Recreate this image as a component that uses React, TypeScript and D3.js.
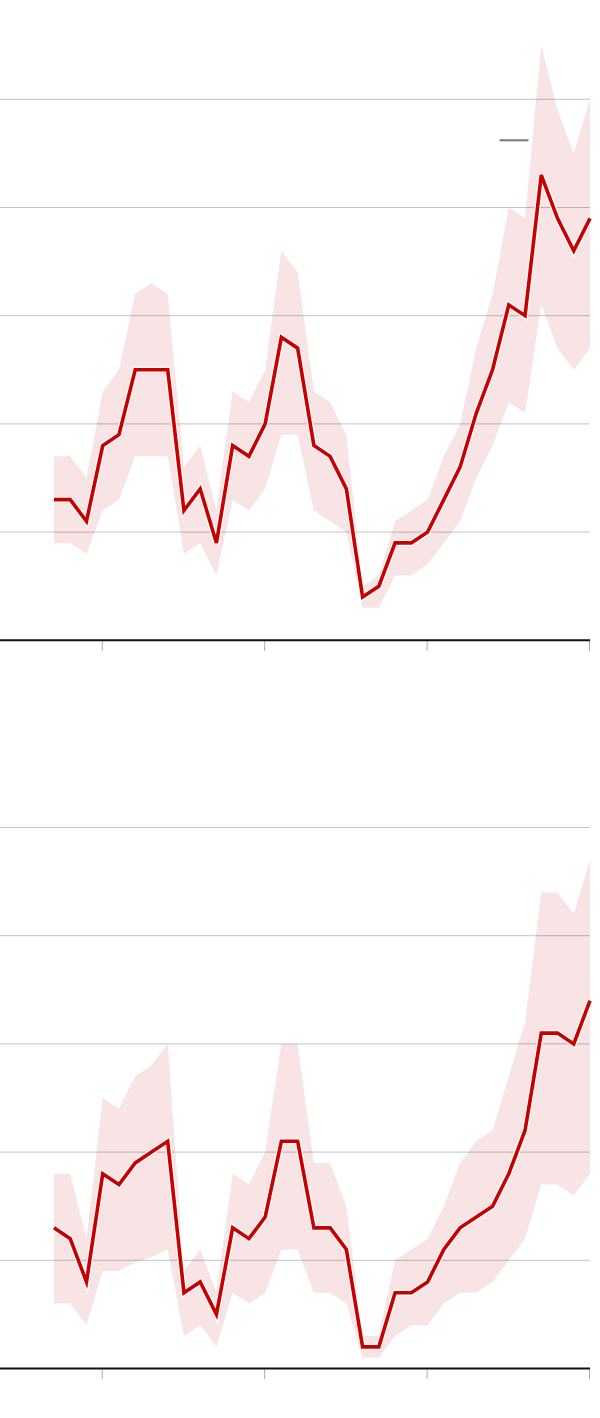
import React from "react"
import * as d3 from "d3"

// years on the x axis, one point per year
const years = d3.range(1987, 2021)
const tickYears = [1990, 2000, 2010, 2020]
const gridValues = [10, 20, 30, 40, 50]

// top panel
const topLine = [13, 13, 11, 18, 19, 25, 25, 25, 12, 14, 9, 18, 17, 20, 28, 27, 18, 17, 14, 4, 5, 9, 9, 10, 13, 16, 21, 25, 31, 30, 43, 39, 36, 39]
const topUpper = [17, 17, 15, 23, 25, 32, 33, 32, 16, 18, 12, 23, 22, 25, 36, 34, 23, 22, 19, 5, 6, 11, 12, 13, 17, 20, 27, 32, 40, 39, 55, 49, 45, 50]
const topLower = [9, 9, 8, 12, 13, 17, 17, 17, 8, 9, 6, 13, 12, 14, 19, 19, 12, 11, 10, 3, 3, 6, 6, 7, 9, 11, 15, 18, 22, 21, 31, 27, 25, 27]

// bottom panel
const bottomLine = [13, 12, 8, 18, 17, 19, 20, 21, 7, 8, 5, 13, 12, 14, 21, 21, 13, 13, 11, 2, 2, 7, 7, 8, 11, 13, 14, 15, 18, 22, 31, 31, 30, 34]
const bottomUpper = [18, 18, 12, 25, 24, 27, 28, 30, 9, 11, 7, 18, 17, 20, 30, 30, 19, 19, 15, 3, 3, 10, 11, 12, 15, 19, 21, 22, 27, 32, 44, 44, 42, 47]
const bottomLower = [6, 6, 4, 9, 9, 9.8, 10.3, 11, 3, 4, 2, 7, 6, 7, 11, 11, 7, 7, 6, 1, 1, 3, 4, 4, 6, 7, 7, 8, 10, 12, 17, 17, 16, 18]

const W = 600
const H = 1418
const RED = "#c80000"
const BAND = "#f8e3e5"

const x = d3.scaleLinear().domain([1987, 2020]).range([54, 590])
const y = d3.scaleLinear().domain([0, 50]).range([640.3, 99.3])

interface Row {
  year: number
  value: number
  lo: number
  hi: number
}

const area = d3
  .area<Row>()
  .x((d) => x(d.year))
  .y0((d) => y(d.lo))
  .y1((d) => y(d.hi))

const line = d3
  .line<Row>()
  .x((d) => x(d.year))
  .y((d) => y(d.value))

const Panel: React.FC<{
  values: number[]
  lower: number[]
  upper: number[]
  offset: number
  legend?: boolean
}> = ({ values, lower, upper, offset, legend }) => {
  const rows: Row[] = years.map((year, i) => ({
    year,
    value: values[i],
    lo: lower[i],
    hi: upper[i],
  }))
  const base = y(0)

  return (
    <g transform={`translate(0,${offset})`}>
      <path d={area(rows) ?? ""} fill={BAND} />
      {gridValues.map((v) => (
        <line
          key={v}
          x1={0}
          x2={590}
          y1={y(v)}
          y2={y(v)}
          stroke="#000"
          strokeOpacity={0.24}
          strokeWidth={1}
        />
      ))}
      {tickYears.map((t) => (
        <line
          key={t}
          x1={x(t) - 0.5}
          x2={x(t) - 0.5}
          y1={base}
          y2={base + 10.5}
          stroke="#aaa"
          strokeWidth={1}
        />
      ))}
      <line x1={0} x2={590} y1={base} y2={base} stroke="#111" strokeWidth={2} />
      <path d={line(rows) ?? ""} fill="none" stroke="#fff" strokeWidth={6} />
      <path d={line(rows) ?? ""} fill="none" stroke={RED} strokeWidth={3.6} />
      {legend && (
        <line x1={499.5} x2={528.5} y1={140.3} y2={140.3} stroke="#777" strokeWidth={2} />
      )}
    </g>
  )
}

export default function App() {
  return (
    <svg
      width={W}
      height={H}
      style={{ position: "absolute", left: 0, top: 0, background: "#fff" }}
    >
      <Panel values={topLine} lower={topLower} upper={topUpper} offset={0} legend />
      <Panel values={bottomLine} lower={bottomLower} upper={bottomUpper} offset={728.2} />
    </svg>
  )
}
